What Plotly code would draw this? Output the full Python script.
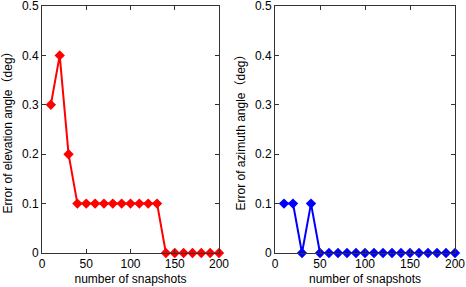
import plotly.graph_objects as go

snapshots = [10, 20, 30, 40, 50, 60, 70, 80, 90, 100, 110, 120, 130, 140, 150, 160, 170, 180, 190, 200]
elev_err = [0.3, 0.4, 0.2, 0.1, 0.1, 0.1, 0.1, 0.1, 0.1, 0.1, 0.1, 0.1, 0.1, 0, 0, 0, 0, 0, 0, 0]
azim_err = [0.1, 0.1, 0, 0.1, 0, 0, 0, 0, 0, 0, 0, 0, 0, 0, 0, 0, 0, 0, 0, 0]
x_ticks = [0, 50, 100, 150, 200]
y_ticks = [0, 0.1, 0.2, 0.3, 0.4, 0.5]
y_ticklabels = ["0", "0.1", "0.2", "0.3", "0.4", "0.5"]

W, H = 466, 287
font = dict(family="Liberation Sans, Arial, Noto Sans CJK SC", size=12, color="black")

fig = go.Figure()
fig.add_trace(go.Scatter(x=snapshots, y=elev_err, mode="lines+markers",
                         line=dict(color="#ff0000", width=2),
                         marker=dict(symbol="diamond", size=8, color="#ff0000"),
                         xaxis="x", yaxis="y", showlegend=False, cliponaxis=False))
fig.add_trace(go.Scatter(x=snapshots, y=azim_err, mode="lines+markers",
                         line=dict(color="#0000ff", width=2),
                         marker=dict(symbol="diamond", size=8, color="#0000ff"),
                         xaxis="x2", yaxis="y2", showlegend=False, cliponaxis=False))

ax_common = dict(showgrid=False, zeroline=False, showline=True, linecolor="#333",
                 linewidth=1, mirror="allticks", ticks="inside", ticklen=4,
                 tickcolor="#333", tickfont=font, automargin=False,
                 ticklabeloverflow="allow")

fig.update_layout(
    width=W, height=H, margin=dict(l=0, r=0, t=0, b=0),
    paper_bgcolor="white", plot_bgcolor="white", font=font,
    xaxis=dict(domain=[42 / W, 219 / W], range=[0, 200], tickvals=x_ticks,
               title=dict(text="number of snapshots", font=font, standoff=4),
               anchor="y", **ax_common),
    yaxis=dict(domain=[1 - 253 / H, 1 - 6 / H], range=[0, 0.5], tickvals=y_ticks,
               ticktext=y_ticklabels,
               title=dict(text="Error of elevation angle（deg）", font=font, standoff=6),
               anchor="x", **ax_common),
    xaxis2=dict(domain=[275 / W, 455 / W], range=[0, 200], tickvals=x_ticks,
                title=dict(text="number of snapshots", font=font, standoff=4),
                anchor="y2", **ax_common),
    yaxis2=dict(domain=[1 - 253 / H, 1 - 6 / H], range=[0, 0.5], tickvals=y_ticks,
                ticktext=y_ticklabels,
                title=dict(text="Error of azimuth angle（deg）", font=font, standoff=6),
                anchor="x2", **ax_common),
)

fig.write_html("out.html", config={"displayModeBar": False},
               post_script="document.body.style.margin='0';document.body.style.padding='0';document.body.style.overflow='hidden';")
